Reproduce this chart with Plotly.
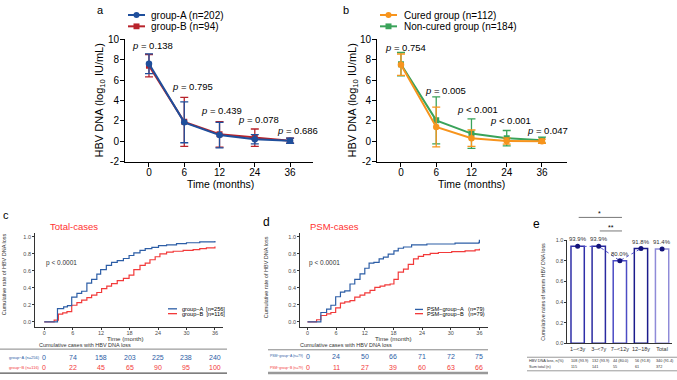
import plotly.graph_objects as go

W, H = 677, 380
FONT = "Liberation Sans, Arial, sans-serif"

# ---------------- data ----------------
time_labels = ["0", "6", "12", "24", "36"]
ab_yticks = [-2, 0, 2, 4, 6, 8, 10]
ab_ytext = ["-2", "0", "2", "4", "6", "8", "10"]

a_A_mean = [7.6, 1.85, 0.6, 0.2, 0.05]
a_A_sd = [0.97, 2.0, 1.25, 0.45, 0.25]
a_B_mean = [7.4, 1.9, 0.68, 0.35, 0.05]
a_B_sd = [1.1, 2.4, 1.25, 0.85, 0.25]
a_pvals = ["= 0.138", "= 0.795", "= 0.439", "= 0.078", "= 0.686"]

b_cured_mean = [7.5, 1.4, 0.3, 0.02, 0.0]
b_cured_sd = [1.05, 1.95, 0.8, 0.3, 0.2]
b_non_mean = [7.55, 2.05, 0.75, 0.3, 0.1]
b_non_sd = [1.15, 2.3, 1.45, 0.75, 0.3]
b_pvals = ["= 0.754", "= 0.005", "< 0.001", "< 0.001", "= 0.047"]

c_time_A = [0, 2.8, 4.1, 4.9, 5.8, 6.9, 7.9, 9.0, 10.0, 11.1, 11.9, 13.1, 14.2, 15.4, 16.7,
            17.9, 18.9, 20.2, 21.3, 22.7, 24.1, 25.8, 27.9, 30.0, 32.8, 36]
c_rate_A = [0, 0.155, 0.175, 0.19, 0.29, 0.335, 0.36, 0.455, 0.50, 0.56, 0.615, 0.665, 0.70,
            0.72, 0.745, 0.78, 0.81, 0.84, 0.86, 0.875, 0.895, 0.905, 0.92, 0.93, 0.94, 0.95]
c_time_B = [0, 2.1, 3.0, 3.9, 4.8, 5.8, 6.9, 7.9, 9.0, 10.0, 11.1, 12.1, 13.2, 14.2, 15.4,
            16.7, 17.9, 18.9, 20.2, 21.3, 22.3, 23.4, 24.4, 25.8, 27.2, 29.3, 31.4, 32.8, 34.2, 36]
c_rate_B = [0, 0.02, 0.09, 0.105, 0.12, 0.195, 0.225, 0.255, 0.285, 0.315, 0.345, 0.39, 0.42,
            0.45, 0.485, 0.51, 0.55, 0.615, 0.665, 0.69, 0.73, 0.765, 0.80, 0.82, 0.83, 0.84,
            0.85, 0.86, 0.87, 0.885]

d_time_A = [0, 2.8, 4.0, 4.9, 5.9, 6.9, 7.8, 8.9, 9.9, 11.0, 12.0, 12.9, 13.9, 15.0, 15.9,
            16.9, 18.1, 19.0, 20.1, 21.8, 25.0, 30.9, 35.9, 36]
d_rate_A = [0, 0.11, 0.15, 0.195, 0.295, 0.35, 0.365, 0.445, 0.50, 0.565, 0.63, 0.69, 0.70,
            0.74, 0.76, 0.795, 0.835, 0.865, 0.88, 0.905, 0.915, 0.925, 0.935, 0.965]
d_time_B = [0, 1.9, 2.8, 4.0, 4.9, 5.9, 6.9, 7.8, 8.9, 9.9, 11.0, 12.0, 13.1, 14.1, 15.2,
            16.2, 17.3, 18.1, 19.0, 20.1, 21.1, 22.2, 23.2, 24.3, 25.7, 27.4, 30.2, 33.0, 35.1, 36]
d_rate_B = [0, 0.025, 0.075, 0.095, 0.11, 0.165, 0.22, 0.235, 0.25, 0.29, 0.315, 0.34, 0.37,
            0.405, 0.42, 0.435, 0.445, 0.50, 0.585, 0.62, 0.675, 0.74, 0.77, 0.79, 0.805, 0.815,
            0.825, 0.835, 0.845, 0.86]

km_ticks = [0, 6, 12, 18, 24, 30, 36]
c_risk_A = [0, 74, 158, 203, 225, 238, 240]
c_risk_B = [0, 22, 45, 65, 90, 95, 100]
d_risk_A = [0, 24, 50, 66, 71, 72, 75]
d_risk_B = [0, 11, 27, 39, 60, 63, 66]

e_groups = ["1–&lt;3y", "3–&lt;7y", "7–&lt;12y", "12–18y", "Total"]
e_rates = [0.939, 0.939, 0.800, 0.918, 0.914]
e_labels = ["93.9%", "93.9%", "80.0%", "91.8%", "91.4%"]
e_loss = ["108 (93.9)", "132 (93.9)", "44 (80.0)", "56 (91.8)", "340 (91.4)"]
e_total = ["115", "141", "55", "61", "372"]

# ---------------- colours ----------------
BLUE_A = "#1f4f9c"
RED_A = "#b8232b"
ORANGE = "#f7941d"
GREEN = "#3aa35a"
KM_BLUE = "#2d5ea6"
KM_RED = "#f23a3a"
E_COLS = ["#2f2fa8", "#2a2aa0", "#4b4bc4", "#1b1b8c", "#8f8bd8"]


def fx(px):
    return px / W


def fy(py):
    return 1 - py / H


fig = go.Figure()

# ---------- panel a ----------
xs = list(range(len(time_labels)))
fig.add_trace(go.Scatter(x=xs, y=a_B_mean, mode="lines+markers",
                         line=dict(color=RED_A, width=2),
                         marker=dict(symbol="square", size=6, color=RED_A),
                         error_y=dict(type="data", array=a_B_sd, color=RED_A, thickness=1.3, width=4),
                         xaxis="x", yaxis="y", showlegend=False))
fig.add_trace(go.Scatter(x=xs, y=a_A_mean, mode="lines+markers",
                         line=dict(color=BLUE_A, width=2),
                         marker=dict(symbol="circle", size=6.5, color=BLUE_A),
                         error_y=dict(type="data", array=a_A_sd, color=BLUE_A, thickness=1.3, width=4),
                         xaxis="x", yaxis="y", showlegend=False))
# ---------- panel b ----------
fig.add_trace(go.Scatter(x=xs, y=b_non_mean, mode="lines+markers",
                         line=dict(color=GREEN, width=2),
                         marker=dict(symbol="square", size=6, color=GREEN),
                         error_y=dict(type="data", array=b_non_sd, color=GREEN, thickness=1.3, width=4),
                         xaxis="x2", yaxis="y2", showlegend=False))
fig.add_trace(go.Scatter(x=xs, y=b_cured_mean, mode="lines+markers",
                         line=dict(color=ORANGE, width=2),
                         marker=dict(symbol="circle", size=6.5, color=ORANGE),
                         error_y=dict(type="data", array=b_cured_sd, color=ORANGE, thickness=1.3, width=4),
                         xaxis="x2", yaxis="y2", showlegend=False))
# ---------- panel c ----------
fig.add_trace(go.Scatter(x=c_time_B, y=c_rate_B, mode="lines", line=dict(color=KM_RED, width=1.2, shape="hv"),
                         xaxis="x3", yaxis="y3", showlegend=False))
fig.add_trace(go.Scatter(x=c_time_A, y=c_rate_A, mode="lines", line=dict(color=KM_BLUE, width=1.2, shape="hv"),
                         xaxis="x3", yaxis="y3", showlegend=False))
# ---------- panel d ----------
fig.add_trace(go.Scatter(x=d_time_B, y=d_rate_B, mode="lines", line=dict(color=KM_RED, width=1.2, shape="hv"),
                         xaxis="x4", yaxis="y4", showlegend=False))
fig.add_trace(go.Scatter(x=d_time_A, y=d_rate_A, mode="lines", line=dict(color=KM_BLUE, width=1.2, shape="hv"),
                         xaxis="x4", yaxis="y4", showlegend=False))
# ---------- panel e ----------
ex = list(range(len(e_groups)))
fig.add_trace(go.Bar(x=ex, y=e_rates, width=0.63,
                     marker=dict(color="white", line=dict(color=E_COLS, width=1.5)),
                     xaxis="x5", yaxis="y5", showlegend=False))
fig.add_trace(go.Scatter(x=ex[:4], y=e_rates[:4], mode="lines",
                         line=dict(color="#5050cc", width=1, dash="dot"),
                         xaxis="x5", yaxis="y5", showlegend=False))
fig.add_trace(go.Scatter(x=ex, y=e_rates, mode="markers",
                         marker=dict(color="#14147a", size=5),
                         xaxis="x5", yaxis="y5", showlegend=False))


def gp_axis(domain, rng, anchor, **kw):
    d = dict(domain=domain, range=rng, anchor=anchor, showgrid=False, zeroline=False,
             showline=True, linecolor="black", linewidth=1, ticks="outside", ticklen=4,
             tickwidth=1, tickcolor="black", tickfont=dict(size=10, family=FONT, color="black"))
    d.update(kw)
    return d


def km_axis(domain, rng, anchor, **kw):
    d = dict(domain=domain, range=rng, anchor=anchor, showgrid=False, zeroline=False,
             showline=True, linecolor="#333333", linewidth=0.8, ticks="outside", ticklen=2,
             tickwidth=0.8, tickcolor="#333333", tickfont=dict(size=5.5, family=FONT, color="#4d4d4d"))
    d.update(kw)
    return d


yd_ab = [fy(160.7), fy(34.3)]
fig.update_layout(
    xaxis=gp_axis([fx(125), fx(313)], [-0.68, 4.65], "y", tickvals=xs, ticktext=time_labels,
                  ticklabelstandoff=-3),
    yaxis=gp_axis(yd_ab, [-2, 10], "x", tickvals=ab_yticks, ticktext=ab_ytext, ticklabelstandoff=-1),
    xaxis2=gp_axis([fx(377), fx(567)], [-0.68, 4.71], "y2", tickvals=xs, ticktext=time_labels,
                   ticklabelstandoff=-3),
    yaxis2=gp_axis(yd_ab, [-2, 10], "x2", tickvals=ab_yticks, ticktext=ab_ytext, ticklabelstandoff=-1),
    xaxis3=km_axis([fx(35), fx(223)], [-1.94, 37.7], "y3", tickvals=km_ticks, ticklabelstandoff=-2),
    yaxis3=km_axis([fy(331.7), fy(234)], [-0.063, 1.049], "x3",
                   tickvals=[0, 0.2, 0.4, 0.6, 0.8, 1.0], tickformat=".1f"),
    xaxis4=km_axis([fx(300), fx(488)], [-1.57, 37.8], "y4", tickvals=km_ticks, ticklabelstandoff=-2),
    yaxis4=km_axis([fy(331.7), fy(234)], [-0.063, 1.049], "x4",
                   tickvals=[0, 0.2, 0.4, 0.6, 0.8, 1.0], tickformat=".1f"),
    xaxis5=km_axis([fx(567.3), fx(672)], [-0.49, 4.47], "y5", tickvals=ex, ticktext=e_groups,
                   ticks="", tickangle=0, tickfont=dict(size=5.5, family=FONT, color="#333333")),
    yaxis5=km_axis([fy(348.3), fy(241.7)], [0, 1.0], "x5",
                   tickvals=[0, 0.2, 0.4, 0.6, 0.8, 1.0], tickformat=".1f"),
)

ann = []
shapes = []


def text(px, py, s, size, color="black", xanchor="left", angle=0, xref="paper", xval=None, **kw):
    ann.append(dict(x=(xval if xval is not None else fx(px)), y=fy(py), xref=xref, yref="paper",
                    text=s, showarrow=False, xanchor=xanchor, yanchor="middle", textangle=angle,
                    font=dict(size=size, color=color, family=FONT), **kw))


def hline(x0, x1, py, color, width):
    shapes.append(dict(type="line", xref="paper", yref="paper", x0=fx(x0), x1=fx(x1),
                       y0=fy(py), y1=fy(py), line=dict(color=color, width=width)))


def legend_item(x0, x1, py, color, symbol, label, size, tx):
    hline(x0, x1, py, color, 2 if symbol else 1.3)
    if symbol:
        cx = (x0 + x1) / 2
        r = 3
        shapes.append(dict(type=symbol, xref="paper", yref="paper", x0=fx(cx - r), x1=fx(cx + r),
                           y0=fy(py + r), y1=fy(py - r), fillcolor=color, line=dict(color=color, width=0)))
    text(tx, py, label, size)


# panel labels
text(95, 4, "a", 11)
text(341, 4, "b", 11)
text(1, 216, "c", 11)
text(261, 223, "d", 12)
text(531, 225, "e", 12)

# legends a / b
legend_item(128, 145, 9.3, BLUE_A, "circle", "group-A (n=202)", 10, 149)
legend_item(128, 145, 21, RED_A, "rect", "group-B (n=94)", 10, 149)
legend_item(380, 397, 9.3, ORANGE, "circle", "Cured group (n=112)", 10, 401.7)
legend_item(380, 397, 21, GREEN, "rect", "Non-cured group (n=184)", 10, 401.7)

# axis titles a / b
text(100, 97.5, "HBV DNA (log<sub>10</sub> IU/mL)", 11, xanchor="center", angle=-90)
text(353, 97.5, "HBV DNA (log<sub>10</sub> IU/mL)", 11, xanchor="center", angle=-90)
text(220, 184, "Time (months)", 10.5, xanchor="center")
text(471.7, 184, "Time (months)", 10.5, xanchor="center")

# p-values
for (px, py), pv in zip([(130, 40.7), (170, 82.7), (199, 108), (236, 117.5), (275, 128.5)], a_pvals):
    text(px, py, "<i>p</i> " + pv, 9.5)
for (px, py), pv in zip([(383, 42.7), (423, 87), (455, 107), (488, 118), (525, 129)], b_pvals):
    text(px, py, "<i>p</i> " + pv, 9.5)

# panel c / d texts
text(48, 227.7, "Total-cases", 9.5, color="#ff3030")
text(308, 227.7, "PSM-cases", 9.5, color="#ff3030")
text(4, 277, "Cumulative rate of HBV DNA loss", 5.5, xanchor="center", angle=-90, color="#333333")
text(266, 280, "Cumulative rate of HBV DNA loss", 5.5, xanchor="center", angle=-90, color="#333333")
text(125, 343, "Time (month)", 6.2, xanchor="center", color="#333333")
text(393, 343, "Time (month)", 6.2, xanchor="center", color="#333333")
text(44, 265, "p < 0.0001", 6.5, color="#333333")
text(306.7, 265.7, "p < 0.0001", 6.5, color="#333333")
legend_item(168, 177, 312.7, KM_BLUE, None, "group−A  [n=256]", 5.6, 180)
legend_item(168, 177, 317.7, KM_RED, None, "group−B  [n=116]", 5.6, 180)
legend_item(415, 423, 313.3, KM_BLUE, None, "PSM−group−A   (n=79)", 5.6, 425)
legend_item(415, 423, 317.7, KM_RED, None, "PSM−group−B   (n=79)", 5.6, 425)

# risk tables
text(37, 350, "Cumulative cases with HBV DNA loss", 5.5, color="#333333")
text(298, 350, "Cumulative cases with HBV DNA loss", 5.5, color="#333333")
hline(0, 227, 354.3, "#666666", 0.8)
hline(268, 488, 355, "#666666", 0.8)
hline(0, 227, 379, "#555555", 1.2)
hline(268, 488, 379, "#999999", 2.5)
text(7, 362.7, "group−A (n=256)", 4, color=KM_BLUE)
text(7, 373.3, "group−B (n=116)", 4, color=KM_RED)
text(268, 361.7, "PSM−group−A (n=79)", 3.4, color=KM_BLUE)
text(268, 373.3, "PSM−group−B (n=79)", 3.4, color=KM_RED)
for t, va, vb in zip(km_ticks, c_risk_A, c_risk_B):
    text(0, 362.7, str(va), 7, color=KM_BLUE, xanchor="center", xref="x3", xval=t)
    text(0, 373.3, str(vb), 7, color=KM_RED, xanchor="center", xref="x3", xval=t)
for t, va, vb in zip(km_ticks, d_risk_A, d_risk_B):
    text(0, 361.7, str(va), 7, color=KM_BLUE, xanchor="center", xref="x4", xval=t)
    text(0, 373.3, str(vb), 7, color=KM_RED, xanchor="center", xref="x4", xval=t)

# panel e
text(543, 295, "Cumulative rates of serum HBV DNA loss", 5.3, xanchor="center", angle=-90, color="#333333")
for i, (r, lab) in enumerate(zip(e_rates, e_labels)):
    ann.append(dict(x=i, y=r, xref="x5", yref="y5", text=lab, showarrow=False, yanchor="bottom",
                    yshift=2, font=dict(size=6, family=FONT, color="#333333")))
# significance brackets
shapes.append(dict(type="line", xref="x5", yref="paper", x0=0.05, x1=2.1, y0=fy(218.3), y1=fy(218.3),
                   line=dict(color="#555555", width=0.8)))
shapes.append(dict(type="line", xref="x5", yref="paper", x0=1.05, x1=2.1, y0=fy(232.3), y1=fy(232.3),
                   line=dict(color="#555555", width=0.8)))
text(0, 214.5, "*", 7, xanchor="center", xref="x5", xval=1.05)
text(0, 228.5, "**", 7, xanchor="center", xref="x5", xval=1.6)
# table e
hline(527, 677, 362.7, "#555555", 0.6)
hline(527, 677, 376.7, "#555555", 0.6)
text(527, 366.7, "HBV DNA loss, n(%)", 3.8, color="#333333")
text(527, 372.7, "Sum total (n)", 3.8, color="#333333")
for i, (l, t) in enumerate(zip(e_loss, e_total)):
    text(0, 366.7, l, 3.8, color="#333333", xref="x5", xval=i - 0.4)
    text(0, 372.7, t, 3.8, color="#333333", xref="x5", xval=i - 0.4)

fig.update_layout(
    width=W, height=H, margin=dict(l=0, r=0, t=0, b=0),
    paper_bgcolor="white", plot_bgcolor="white",
    annotations=ann, shapes=shapes, showlegend=False,
    font=dict(family=FONT),
)

fig.write_html("out.html", config={"displayModeBar": False},
               post_script="document.body.style.margin='0';document.body.style.overflow='hidden';")
